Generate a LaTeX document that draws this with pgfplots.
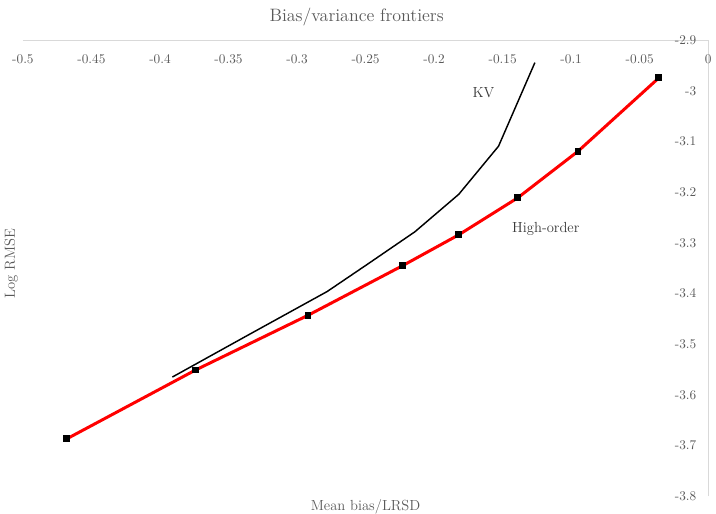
\documentclass[border=0pt]{standalone}
\usepackage{pgfplots}
\pgfplotsset{compat=1.18}
\definecolor{txt}{HTML}{595959}
\definecolor{lbl}{HTML}{3A3A3A}
\definecolor{axl}{HTML}{D9D9D9}
\begin{document}
\begin{tikzpicture}
\begin{axis}[
  name=ax,
  scale only axis, width=516pt, height=343.1pt,
  xmin=-0.5, xmax=0, ymin=-3.8, ymax=-2.9,
  axis x line=top, axis y line=right,
  axis line style={draw=axl, line width=0.75pt, -},
  xtick={-0.5,-0.45,-0.4,-0.35,-0.3,-0.25,-0.2,-0.15,-0.1,-0.05,0},
  xticklabels={-0.5,-0.45,-0.4,-0.35,-0.3,-0.25,-0.2,-0.15,-0.1,-0.05,0},
  ytick={-3.8,-3.7,-3.6,-3.5,-3.4,-3.3,-3.2,-3.1,-3,-2.9},
  yticklabels={-3.8,-3.7,-3.6,-3.5,-3.4,-3.3,-3.2,-3.1,-3,-2.9},
  major tick length=0pt,
  tick style={draw=none},
  xticklabel style={anchor=north, yshift=-7pt, font=\fontsize{10}{11}\selectfont, text=txt},
  yticklabel style={anchor=east, xshift=-5.5pt, font=\fontsize{10}{11}\selectfont, text=txt},
  clip=false,
]
\addplot[black, line width=1.1pt] coordinates {
  (-0.391,-3.565) (-0.335,-3.481) (-0.278,-3.396) (-0.248,-3.341)
  (-0.214,-3.278) (-0.182,-3.204) (-0.153,-3.109) (-0.1265,-2.944)
};
\addplot[red, line width=2.25pt, mark=square*, mark size=2.2pt,
  mark options={fill=black, draw=black, line width=0pt}] coordinates {
  (-0.468,-3.687) (-0.374,-3.551) (-0.292,-3.443) (-0.223,-3.345)
  (-0.182,-3.284) (-0.139,-3.211) (-0.095,-3.119) (-0.036,-2.974)
};
\node[text=lbl, font=\fontsize{11}{13}\selectfont] at (axis cs:-0.164,-3.004) {KV};
\node[text=lbl, font=\fontsize{11}{13}\selectfont] at (axis cs:-0.1185,-3.272) {High-order};
\node[text=txt, font=\fontsize{13.5}{16}\selectfont, anchor=base, inner sep=0pt]
  at ([yshift=13.9pt]rel axis cs:0.487,1) {Bias/variance frontiers};
\node[text=txt, font=\fontsize{11}{12}\selectfont, anchor=base, inner sep=0pt]
  at ([yshift=-10.5pt]rel axis cs:0.5,0) {Mean bias/LRSD};
\node[text=txt, font=\fontsize{11}{12}\selectfont, anchor=base, inner sep=0pt, rotate=90]
  at ([xshift=-6pt]rel axis cs:0,0.51) {Log RMSE};
\end{axis}
\path[use as bounding box] ([xshift=-17.25pt, yshift=-13.5pt]ax.south west)
  rectangle ([xshift=3.75pt, yshift=30.4pt]ax.north east);
\end{tikzpicture}
\end{document}
